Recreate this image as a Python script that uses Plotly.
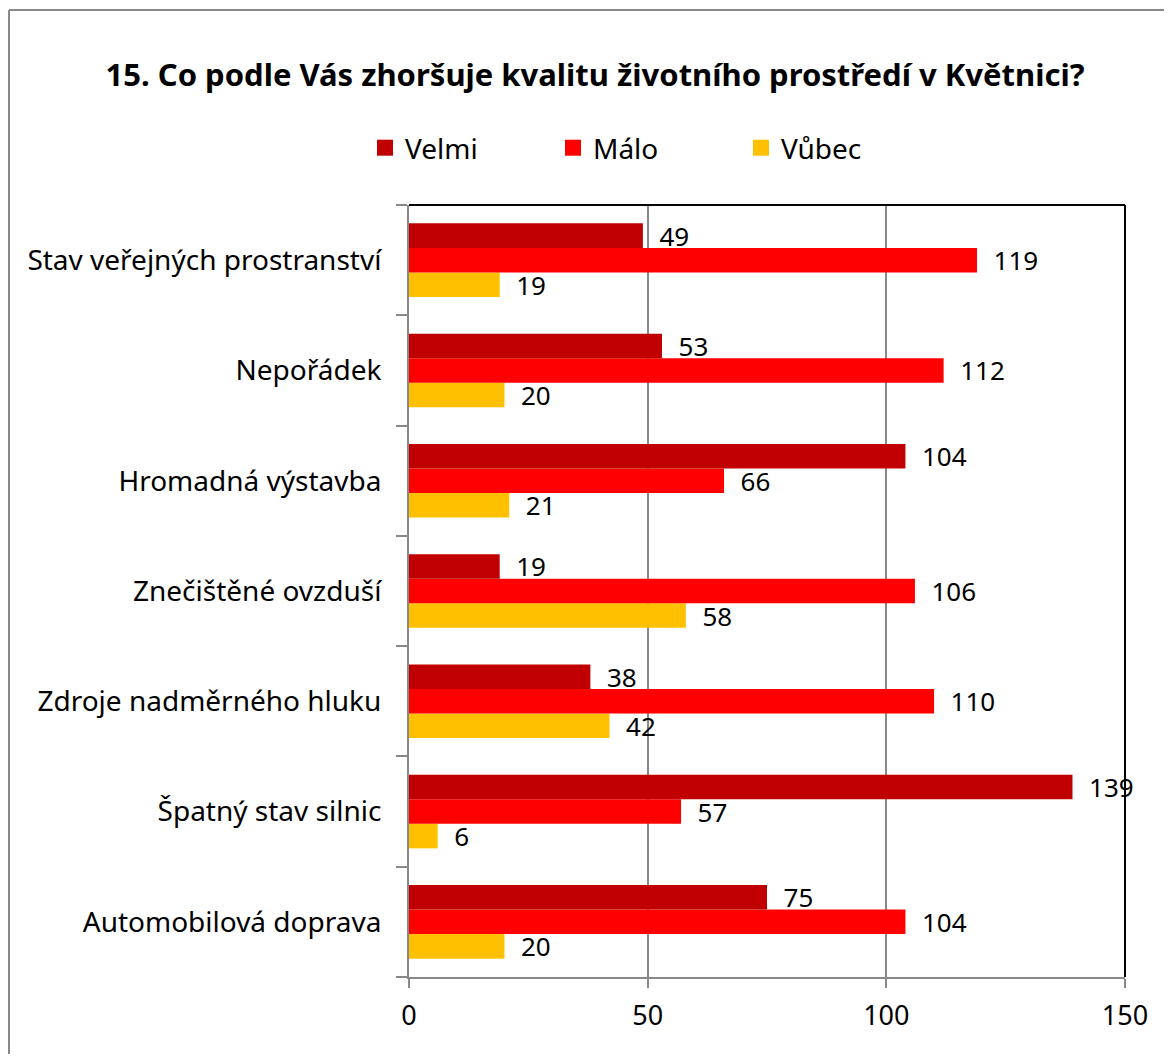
import plotly.graph_objects as go

categories = ["Stav veřejných prostranství", "Nepořádek", "Hromadná výstavba",
              "Znečištěné ovzduší", "Zdroje nadměrného hluku", "Špatný stav silnic",
              "Automobilová doprava"]
velmi = [49, 53, 104, 19, 38, 139, 75]
malo = [119, 112, 66, 106, 110, 57, 104]
vubec = [19, 20, 21, 58, 42, 6, 20]
series_names = ["Velmi", "Málo", "Vůbec"]
colors = ["#C00000", "#FF0000", "#FFC000"]
x_ticks = [0, 50, 100, 150]

FONT = "Noto Sans"
OFF = 8  # default body margin of the html page
W, H = 1156, 1046
L, R, T, B = 409 - OFF, 1125 - OFF, 205 - OFF, 977 - OFF

cats_r = categories[::-1]
fig = go.Figure()
for name, vals, col in zip(series_names[::-1], [vubec, malo, velmi], colors[::-1]):
    fig.add_trace(go.Bar(
        y=cats_r, x=vals[::-1], name=name, orientation="h",
        marker=dict(color=col, line=dict(width=0)),
        texttemplate="  %{x}", textposition="outside", constraintext="none",
        textfont=dict(family=FONT, size=26, color="black"),
        cliponaxis=False, showlegend=False,
    ))
# legend entries (square markers)
for name, col in zip(series_names, colors):
    fig.add_trace(go.Scatter(x=[None], y=[None], mode="markers", name=name,
                             marker=dict(symbol="square", size=17, color=col)))


def px2x(p):
    return (p - OFF - L) / (R - L)


def py2y(p):
    return (B - (p - OFF)) / (B - T)


shapes = [
    dict(type="line", xref="paper", yref="paper", x0=px2x(9), x1=px2x(1200),
         y0=py2y(10), y1=py2y(10), line=dict(color="#888888", width=2)),
    dict(type="line", xref="paper", yref="paper", x0=px2x(9), x1=px2x(9),
         y0=py2y(10), y1=py2y(1080), line=dict(color="#888888", width=2)),
    dict(type="line", xref="paper", yref="paper", x0=0, x1=1, y0=1, y1=1,
         line=dict(color="black", width=2)),
    dict(type="line", xref="paper", yref="paper", x0=1, x1=1, y0=0, y1=1,
         line=dict(color="black", width=2)),
]

fig.update_layout(
    width=W, height=H,
    margin=dict(l=L, r=W - R, t=T, b=H - B, autoexpand=False),
    paper_bgcolor="white", plot_bgcolor="white",
    barmode="group", bargap=0.333, bargroupgap=0,
    title=dict(text="<b>15. Co podle Vás zhoršuje kvalitu životního prostředí v Květnici?</b>",
               xref="paper", x=px2x(595), xanchor="center",
               yref="container", y=1 - (75 - OFF) / H, yanchor="middle",
               font=dict(family=FONT, size=31, color="black")),
    legend=dict(orientation="h", x=px2x(365), xanchor="left",
                y=py2y(148), yanchor="middle", entrywidth=143, entrywidthmode="pixels",
                font=dict(family=FONT, size=28, color="black"),
                itemwidth=30, bgcolor="rgba(0,0,0,0)", itemsizing="trace"),
    font=dict(family=FONT, color="black"),
    shapes=shapes,
    showlegend=True,
)
fig.update_xaxes(range=[0, 150], tickvals=x_ticks, showgrid=True, gridcolor="#888888",
                 gridwidth=1.5, showline=True, linecolor="#888888", linewidth=2,
                 ticks="outside", ticklen=9, tickcolor="#888888", tickwidth=2,
                 tickfont=dict(family=FONT, size=27, color="black"), zeroline=False,
                 ticklabelstandoff=5)
fig.update_yaxes(showline=True, linecolor="#888888", linewidth=2,
                 ticks="outside", ticklen=11, tickcolor="#888888", tickwidth=2,
                 tickson="boundaries", showgrid=False,
                 tickfont=dict(family=FONT, size=28, color="black"), ticklabelstandoff=20)
fig.write_html("out.html")
